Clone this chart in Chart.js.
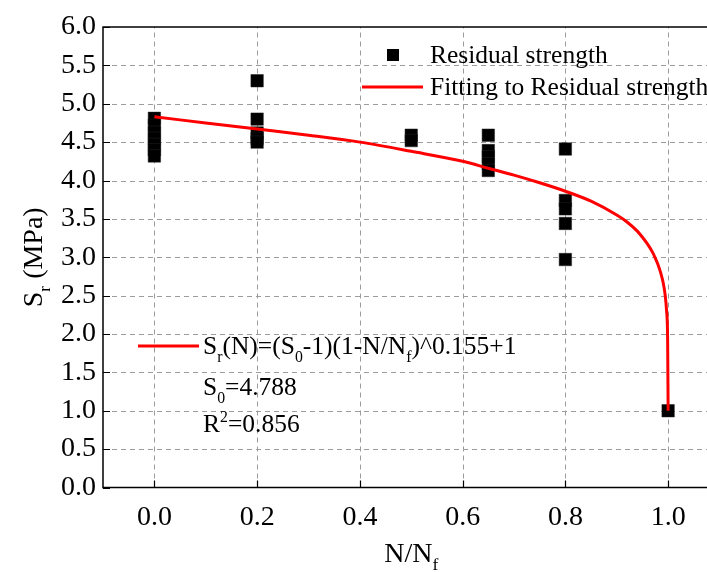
<!DOCTYPE html>
<html>
<head>
<meta charset="utf-8">
<script src="https://cdn.jsdelivr.net/npm/chart.js@4.4.1/dist/chart.umd.min.js"></script>
<style>
  html, body { margin: 0; padding: 0; background: #fff; overflow: hidden; }
  #wrap { width: 722px; height: 572px; }
</style>
</head>
<body>
<div id="wrap"><canvas id="strengthChart" width="722" height="572"></canvas></div>
<script>
// measured residual strength (N/Nf, Sr in MPa)
const residualX = [0, 0, 0, 0, 0, 0, 0,
                   0.2, 0.2, 0.2, 0.2, 0.2,
                   0.5, 0.5,
                   0.65, 0.65, 0.65, 0.65, 0.65,
                   0.8, 0.8, 0.8, 0.8, 0.8,
                   1.0];
const residualY = [4.81, 4.72, 4.63, 4.55, 4.47, 4.40, 4.32,
                   5.30, 4.80, 4.62, 4.55, 4.50,
                   4.59, 4.52,
                   4.59, 4.39, 4.31, 4.22, 4.13,
                   4.41, 3.74, 3.63, 3.44, 2.97,
                   1.00];

// fitted curve
const fitX = [0, 0.1, 0.2, 0.3, 0.4, 0.5, 0.6, 0.65, 0.7, 0.75, 0.8, 0.85, 0.9, 0.92, 0.94, 0.95, 0.96, 0.97, 0.975, 0.98, 0.985, 0.99, 0.994, 0.997, 0.999, 1.0];
const fitY = [4.83, 4.75, 4.67, 4.59, 4.50, 4.38, 4.25, 4.16, 4.07, 3.97, 3.86, 3.73, 3.55, 3.46, 3.34, 3.26, 3.17, 3.06, 2.99, 2.91, 2.81, 2.68, 2.52, 2.30, 1.95, 1.00];

const xTicks = [0, 0.2, 0.4, 0.6, 0.8, 1.0];
const yTicks = [0, 0.5, 1.0, 1.5, 2.0, 2.5, 3.0, 3.5, 4.0, 4.5, 5.0, 5.5, 6.0];
const seriesLabels = ['Residual strength', 'Fitting to Residual strength'];
const fitText = [
  [['S'], ['r', 'sub'], ['(N)=(S'], ['0', 'sub'], ['-1)(1-N/N'], ['f', 'sub'], [')^0.155+1']],
  [['S'], ['0', 'sub'], ['=4.788']],
  [['R'], ['2', 'sup'], ['=0.856']]
];

const FONT = '"Liberation Serif", "Times New Roman", serif';
const FS = 25.5;     // legend and annotation
const FS_AXIS = 28;  // tick labels and axis titles

function richText(ctx, parts, x, y, size, align) {
  let total = 0;
  parts.forEach(([t, k]) => {
    ctx.font = (k ? size * 0.62 : size) + 'px ' + FONT;
    total += ctx.measureText(t).width;
  });
  let cx = align === 'center' ? x - total / 2 : x;
  ctx.textAlign = 'left';
  ctx.textBaseline = 'alphabetic';
  parts.forEach(([t, k]) => {
    const s = k ? size * 0.62 : size;
    ctx.font = s + 'px ' + FONT;
    const dy = k === 'sub' ? size * 0.3 : k === 'sup' ? -size * 0.38 : 0;
    ctx.fillText(t, cx, y + dy);
    cx += ctx.measureText(t).width;
  });
}

// dashed grid under the data
const gridLines = {
  id: 'gridLines',
  beforeDatasetsDraw(chart) {
    const ctx = chart.ctx, area = chart.chartArea;
    const xs = chart.scales.x, ys = chart.scales.y;
    ctx.save();
    ctx.strokeStyle = '#9c9c9c';
    ctx.lineWidth = 1;
    ctx.setLineDash([5, 4]);
    ctx.beginPath();
    xTicks.forEach(v => {
      const px = Math.round(xs.getPixelForValue(v)) + 0.5;
      ctx.moveTo(px, area.bottom); ctx.lineTo(px, area.top);
    });
    yTicks.slice(1, -1).forEach(v => {
      const py = Math.round(ys.getPixelForValue(v)) + 0.5;
      ctx.moveTo(area.left, py); ctx.lineTo(area.right, py);
    });
    ctx.stroke();
    ctx.restore();
  }
};

const decorations = {
  id: 'decorations',
  afterDraw(chart) {
    const ctx = chart.ctx;
    const area = chart.chartArea;
    const xs = chart.scales.x, ys = chart.scales.y;
    ctx.save();
    ctx.fillStyle = '#000';
    ctx.strokeStyle = '#000';
    ctx.setLineDash([]);

    // frame
    ctx.lineWidth = 1.5;
    ctx.strokeRect(area.left, area.top, area.right - area.left, area.bottom - area.top);

    // inward ticks
    ctx.lineWidth = 1.2;
    ctx.beginPath();
    xTicks.forEach(v => {
      const px = Math.round(xs.getPixelForValue(v)) + 0.5;
      ctx.moveTo(px, area.bottom); ctx.lineTo(px, area.bottom - 7);
    });
    yTicks.forEach(v => {
      const py = Math.round(ys.getPixelForValue(v)) + 0.5;
      ctx.moveTo(area.left, py); ctx.lineTo(area.left + 7, py);
    });
    ctx.stroke();

    // tick labels
    ctx.font = FS_AXIS + 'px ' + FONT;
    ctx.textBaseline = 'middle';
    ctx.textAlign = 'center';
    xTicks.forEach(v => ctx.fillText(v.toFixed(1), xs.getPixelForValue(v), 518));
    ctx.textAlign = 'right';
    yTicks.forEach(v => ctx.fillText(v.toFixed(1), area.left - 7, ys.getPixelForValue(v)));

    // axis titles
    richText(ctx, [['N/N'], ['f', 'sub']], (area.left + area.right) / 2, 562, FS_AXIS, 'center');
    ctx.save();
    ctx.translate(42, (area.top + area.bottom) / 2);
    ctx.rotate(-Math.PI / 2);
    richText(ctx, [['S'], ['r', 'sub'], [' (MPa)']], 0, 0, FS_AXIS, 'center');
    ctx.restore();

    // legend
    const ds0 = chart.data.datasets[0], ds1 = chart.data.datasets[1];
    ctx.fillStyle = ds0.backgroundColor;
    ctx.fillRect(387, 49, 12, 12);
    ctx.fillStyle = '#000';
    richText(ctx, [[ds0.label]], 430, 63, FS, 'left');
    ctx.strokeStyle = ds1.borderColor;
    ctx.lineWidth = 3;
    ctx.beginPath(); ctx.moveTo(362, 87); ctx.lineTo(423, 87); ctx.stroke();
    richText(ctx, [[ds1.label]], 430, 95, FS, 'left');

    // fit annotation
    ctx.beginPath(); ctx.moveTo(138, 346); ctx.lineTo(199, 346); ctx.stroke();
    ctx.fillStyle = '#000';
    richText(ctx, fitText[0], 203, 354, FS, 'left');
    richText(ctx, fitText[1], 203, 395, FS, 'left');
    richText(ctx, fitText[2], 203, 432, FS, 'left');
    ctx.restore();
  }
};

const zeroPad = s => { s.paddingLeft = 0; s.paddingRight = 0; s.paddingTop = 0; s.paddingBottom = 0; };

new Chart(document.getElementById('strengthChart'), {
  type: 'scatter',
  data: {
    datasets: [{
      label: seriesLabels[0],
      data: residualX.map((x, i) => ({ x: x, y: residualY[i] })),
      pointStyle: 'rect',
      pointRadius: 8.8,
      backgroundColor: '#000',
      borderColor: '#222',
      borderWidth: 0.5,
      order: 2
    }, {
      label: seriesLabels[1],
      type: 'line',
      data: fitX.map((x, i) => ({ x: x, y: fitY[i] })),
      borderColor: '#ff0000',
      backgroundColor: '#ff0000',
      borderWidth: 3,
      pointRadius: 0,
      fill: false,
      cubicInterpolationMode: 'monotone',
      order: 1
    }]
  },
  options: {
    responsive: false,
    animation: false,
    devicePixelRatio: 1,
    layout: { autoPadding: false, padding: { left: 0, top: 27, right: 2.5, bottom: 0 } },
    plugins: {
      legend: { display: false },
      tooltip: { enabled: false }
    },
    scales: {
      x: {
        type: 'linear',
        min: -0.1,
        max: 1.1,
        afterFit: s => { s.height = 84.5; zeroPad(s); },
        grid: { display: false },
        border: { display: false },
        ticks: { display: false }
      },
      y: {
        type: 'linear',
        min: 0,
        max: 6,
        afterFit: s => { s.width = 103; zeroPad(s); },
        grid: { display: false },
        border: { display: false },
        ticks: { display: false }
      }
    }
  },
  plugins: [gridLines, decorations]
});
</script>
</body>
</html>
